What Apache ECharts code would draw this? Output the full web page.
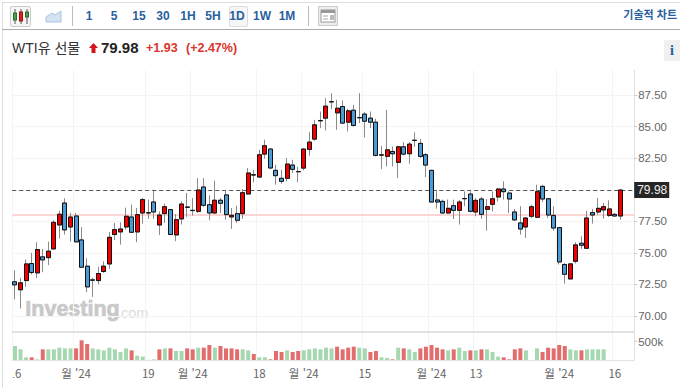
<!DOCTYPE html>
<html lang="ko"><head><meta charset="utf-8">
<script src="https://cdn.jsdelivr.net/npm/echarts@6/dist/echarts.min.js"></script>
<style>
html,body{margin:0;padding:0;background:#fff;overflow:hidden}
body{width:680px;height:388px;position:relative;font-family:"Liberation Sans","Noto Sans CJK KR",sans-serif}
#chart{position:absolute;left:0;top:0;width:680px;height:388px}
.a{position:absolute;white-space:nowrap}
.tf{top:8px;width:24px;text-align:center;font-size:12px;line-height:16px;font-weight:bold;color:#2a5f9e}
</style></head><body>
<div id="chart"></div>
<div class="a" style="left:3px;top:364px;width:10px;height:16px;background:#fff"></div>
<div class="a" style="left:2px;top:2px;right:0;height:1px;background:#ddd"></div>
<div class="a" style="left:2px;top:2px;width:1px;height:386px;background:#ddd"></div>
<div class="a" style="left:2px;top:29px;right:0;height:1px;background:#aaa"></div>
<div class="a" style="left:10px;top:6px;width:19px;height:19px;border:1px solid #ccc;border-radius:2px;background:#f6f6f6"></div>
<svg class="a" style="left:10px;top:6px" width="22" height="22">
<path d="M5 3V18M11 3V18M17 3V18" stroke="#555" fill="none"/><rect x="3.5" y="7" width="3" height="7" fill="#4a9e4a" stroke="#2d6b2d"/><rect x="9.5" y="6" width="3" height="9" fill="#e02020" stroke="#a01010"/><rect x="15.5" y="6" width="3" height="5" fill="#4a9e4a" stroke="#2d6b2d"/></svg>
<svg class="a" style="left:45px;top:9px" width="17" height="14"><path d="M1 8L7 4L10 6L16 2V13H1Z" fill="#d4e2f2" stroke="#a9c4e2"/></svg>
<div class="a" style="left:72px;top:6px;width:1px;height:20px;background:#bbb"></div>
<div class="a" style="left:229px;top:6px;width:17px;height:19px;border:1px solid #ddd;border-radius:2px;background:#f6f6f6"></div>
<div class="a tf" style="left:77px">1</div><div class="a tf" style="left:102px">5</div><div class="a tf" style="left:127px">15</div><div class="a tf" style="left:151px">30</div><div class="a tf" style="left:176px">1H</div><div class="a tf" style="left:201px">5H</div><div class="a tf" style="left:225px">1D</div><div class="a tf" style="left:250px">1W</div><div class="a tf" style="left:275px">1M</div>
<div class="a" style="left:308px;top:6px;width:1px;height:20px;background:#bbb"></div>
<svg class="a" style="left:318px;top:6px" width="20" height="20"><rect x=".5" y=".5" width="19" height="19" fill="#eee" stroke="#ccc"/><rect x="3" y="4" width="14" height="12" fill="#fff" stroke="#999"/><rect x="3" y="4" width="14" height="3" fill="#999"/><path d="M5 10H10M5 13H10" stroke="#aaa"/><rect x="12" y="9" width="4" height="5" fill="#bbb"/></svg>
<div class="a" style="right:3px;top:7px;font-size:11px;line-height:16px;font-weight:bold;color:#2a5f9e">기술적 차트</div>
<div class="a" style="left:12px;top:39px;font-size:14px;line-height:18px;color:#333">WTI유 선물</div>
<svg class="a" style="left:89px;top:43px" width="9" height="10"><path d="M4.5 0L9 5H6.5V10H2.5V5H0Z" fill="#d8121a"/></svg>
<div class="a" style="left:101px;top:39px;font-size:15px;line-height:18px;font-weight:bold;color:#222">79.98</div>
<div class="a" style="left:146px;top:40px;font-size:12.5px;line-height:16px;font-weight:bold;color:#d9362e">+1.93</div>
<div class="a" style="left:186px;top:40px;font-size:12.5px;line-height:16px;font-weight:bold;color:#d9362e">(+2.47%)</div>
<div class="a" style="left:664px;top:40px;width:16px;height:21px;background:#f0f0f0;text-align:center;font:bold 14px/21px 'Liberation Serif',serif;color:#1f5da0">i</div>
<script>
const opens=[72.70,72.07,72.80,74.15,73.41,74.68,74.62,75.31,77.21,78.95,77.05,77.92,76.02,73.94,72.85,72.80,73.52,74.12,76.45,76.66,
77.05,77.84,76.66,78.16,78.18,79.03,77.21,78.11,78.43,76.42,77.69,78.63,78.37,78.29,80.22,78.82,78.16,79.17,79.59,77.85,
78.11,78.11,79.67,81.19,81.01,82.83,83.23,81.54,80.91,80.91,81.96,81.45,81.72,83.20,84.02,85.49,85.68,86.99,86.10,86.60,
85.36,86.31,85.73,86.00,85.68,85.36,82.77,82.65,83.04,82.17,83.41,82.86,83.93,83.68,82.78,81.54,79.19,79.08,78.16,78.74,
78.37,79.31,79.66,78.24,79.27,78.45,78.85,79.43,80.06,79.74,78.24,77.37,77.05,77.90,77.82,80.27,79.29,77.97,77.00,74.07,
72.93,74.33,75.76,75.36,78.19,78.24,78.40,77.97,78.05,77.92];
const closes=[72.46,72.62,74.12,73.44,75.26,74.44,75.13,77.42,78.06,76.82,77.84,75.87,73.86,72.30,72.83,73.36,73.94,76.23,76.84,76.89,
77.90,76.63,78.03,79.22,78.16,78.24,78.00,78.66,76.45,77.63,78.87,78.61,78.35,79.98,78.77,78.16,79.17,78.93,78.03,77.98,
77.58,79.77,81.33,81.17,82.78,83.49,81.73,81.12,80.67,82.04,81.62,81.43,83.23,83.78,85.15,85.47,86.63,86.97,86.47,85.29,
86.26,85.10,85.71,85.44,85.36,82.73,82.75,83.17,82.86,83.41,82.83,83.62,83.91,82.65,81.96,79.03,79.03,78.16,78.53,78.37,
79.03,79.29,78.29,79.16,78.05,78.66,79.29,80.06,79.85,79.27,77.61,76.89,77.76,78.66,79.85,79.27,78.00,76.97,74.28,73.30,
74.12,75.63,75.60,77.76,78.00,78.53,78.66,78.48,77.92,79.98];
const lows=[71.30,70.59,72.30,73.28,72.99,73.46,74.02,75.26,76.13,76.45,75.89,75.84,73.81,71.88,71.51,72.49,73.41,73.73,76.00,75.65,
76.84,76.58,75.84,77.32,77.69,77.69,76.42,77.37,76.42,75.92,77.24,77.85,77.95,78.16,78.64,77.58,78.11,78.16,77.63,76.90,
77.37,77.69,79.61,80.59,80.93,82.46,81.65,80.41,80.49,80.67,81.33,80.59,81.54,82.70,83.89,84.89,84.70,86.39,84.76,85.21,
84.63,85.02,85.29,84.15,84.89,82.65,81.64,81.85,81.85,80.93,82.73,82.07,83.41,82.51,81.01,79.03,78.50,78.08,78.08,77.68,
77.24,78.69,78.21,77.90,77.71,76.76,78.29,79.08,79.22,78.16,77.55,76.44,76.18,77.76,77.79,79.03,77.76,76.76,74.07,72.56,
72.93,74.15,75.31,75.31,77.32,78.03,77.71,77.84,77.87,77.62];
const highs=[73.62,73.02,74.47,75.00,75.84,75.31,75.89,77.58,78.35,79.32,78.16,78.16,77.03,74.57,73.02,73.89,74.33,76.66,77.37,77.42,
78.58,78.82,78.56,79.35,79.22,79.90,78.29,78.90,78.48,78.08,79.09,79.75,79.35,80.93,80.93,79.56,80.72,79.35,79.96,78.56,
78.74,80.06,81.73,81.59,83.18,83.97,83.31,81.99,81.59,82.52,82.38,81.80,83.31,84.57,85.55,86.21,87.26,87.66,87.13,87.08,
86.42,86.74,87.66,86.16,86.21,85.63,83.49,86.34,83.44,83.49,83.78,83.78,84.55,84.02,82.91,81.59,80.01,79.22,79.22,79.22,
79.19,79.88,80.01,79.35,79.43,79.27,79.87,80.14,80.67,79.87,78.48,78.69,77.84,78.82,80.40,80.40,79.35,78.69,77.05,74.20,
74.20,75.84,76.31,78.34,78.48,79.35,78.95,79.16,78.16,80.06];
const volumes=[382,291,73,73,18,291,291,291,337,318,318,318,537,437,318,291,264,337,291,218,
318,264,118,91,5,18,291,318,318,246,246,318,291,337,337,410,337,382,318,318,
291,291,264,164,73,73,18,246,218,264,218,246,264,291,318,291,337,318,364,291,
337,364,337,318,218,246,73,55,18,337,318,291,218,318,364,410,337,291,264,291,
337,246,264,264,291,291,218,91,73,18,291,318,264,null,318,218,337,318,410,382,
291,264,264,291,291,291,291,null,null,null];
const volumeSides=["gggrgrgggg","grrrgggggg","grggggrgrg","grrgrrgrrr","rggrggrrrg","rrggggggrr","rrggrrggrg","rggrrrrrgr","ggrgrgggrr","rrgggrrrrr","ggrggggggg"];
const previousClose=[78.05];
const lastPrice=[79.98];
const priceTicks=[70,72.5,75,77.5,80,82.5,85,87.5];
const priceLabels=[70,72.5,75,77.5,82.5,85,87.5];
const dateLabels={0:"16",11:"월 '24",24:"19",32:"월 '24",44:"18",52:"월 '24",63:"15",75:"월 '24",83:"13",98:"월 '24",108:"16"};
const slots=112;
const categories=Array.from({length:slots},(_,i)=>dateLabels[i]||'');

const hasLabel=(i)=>dateLabels[i]!==undefined;
const grid='#f4f4f4', axisC='#e2e2e2', txt='#666';
const chart=echarts.init(document.getElementById('chart'),null,{renderer:'svg',width:680,height:388});
const full=opens.map((o,i)=>[o,closes[i],lows[i],highs[i]]);
const bodies=opens.map((o,i)=>[o,closes[i],Math.min(o,closes[i]),Math.max(o,closes[i])]);
const RED='#f20000',BLUE='#4b9bd6';
const sides=volumeSides.join('');
chart.setOption({
 animation:false,
 graphic:[
  {type:'text',left:25,top:298,z:0,style:{text:'Investing',font:'bold 21.5px "Liberation Sans"',fill:'#c9c9c9',stroke:'#c9c9c9',lineWidth:0.7}},
  {type:'text',left:117,top:305,z:0,style:{text:'.com',font:'14.5px "Liberation Sans"',fill:'#dcdcdc'}}
 ],
 grid:[{left:12.2,width:622,top:70,height:261},{left:12.2,width:622,top:332,height:28}],
 xAxis:[
  {type:'category',gridIndex:0,data:categories,boundaryGap:true,axisLine:{show:false},axisTick:{show:false},axisLabel:{show:false},
   splitLine:{show:true,interval:hasLabel,lineStyle:{color:grid}}},
  {type:'category',gridIndex:1,data:categories,boundaryGap:true,axisLine:{lineStyle:{color:axisC}},
   axisTick:{show:false},
   axisLabel:{interval:hasLabel,color:txt,fontSize:11.5,margin:7,fontFamily:'"Noto Sans CJK KR","Liberation Sans"',hideOverlap:false,showMinLabel:true},
   splitLine:{show:true,interval:hasLabel,lineStyle:{color:grid}}}
 ],
 yAxis:[
  {type:'value',gridIndex:0,position:'right',min:68.8,max:89.5,axisLine:{show:true,lineStyle:{color:axisC}},
   axisTick:{show:true,length:3,lineStyle:{color:'#ccc'},customValues:priceTicks},
   axisLabel:{customValues:priceLabels,color:txt,fontSize:11.5,margin:4,fontFamily:'"Liberation Sans"',formatter:v=>v.toFixed(2)},
   splitLine:{show:true,lineStyle:{color:grid}}},
  {type:'value',gridIndex:1,position:'right',min:0,max:765,axisLine:{show:true,lineStyle:{color:axisC}},
   axisTick:{show:true,length:3,lineStyle:{color:'#ccc'},customValues:[500]},
   axisLabel:{customValues:[500],color:txt,fontSize:11.5,margin:4,fontFamily:'"Liberation Sans"',formatter:v=>v+'k'},
   splitLine:{show:false}}
 ],
 series:[
  {name:'wicks',type:'candlestick',xAxisIndex:0,yAxisIndex:0,data:full,barWidth:4.5,z:3,
   itemStyle:{color:'#888',color0:'#888',borderColor:'#8a8a8a',borderColor0:'#8a8a8a',borderColorDoji:'#8a8a8a',borderWidth:1}},
  {name:'WTI',type:'candlestick',xAxisIndex:0,yAxisIndex:0,data:bodies,barWidth:4.5,z:4,
   itemStyle:{color:RED,color0:BLUE,borderColor:'#111',borderColor0:'#111',borderColorDoji:'#555',borderWidth:1},
   markLine:{silent:true,symbol:'none',animation:false,precision:2,z:1,data:[
     {yAxis:previousClose[0],lineStyle:{color:'#ffd6d6',type:'solid',width:2},label:{show:false}},
     {yAxis:lastPrice[0],lineStyle:{color:'#555',type:[4,3],width:1},
      label:{show:true,position:'end',distance:0,formatter:()=>lastPrice[0].toFixed(2),color:'#f0f0f0',backgroundColor:'#262626',padding:[2,2,2,3],fontSize:12,fontFamily:'"Liberation Sans"'}}
   ]}},
  {name:'Volume',type:'bar',xAxisIndex:1,yAxisIndex:1,barWidth:4,
   data:volumes.map((v,i)=>({value:v,itemStyle:{color:sides[i]==='r'?'#e36d6d':'#a5d8b0'}}))}
 ]
});
</script>
<div class="a" style="left:12px;top:331px;width:622px;height:2px;background:#e2e2e2"></div>
</body></html>
